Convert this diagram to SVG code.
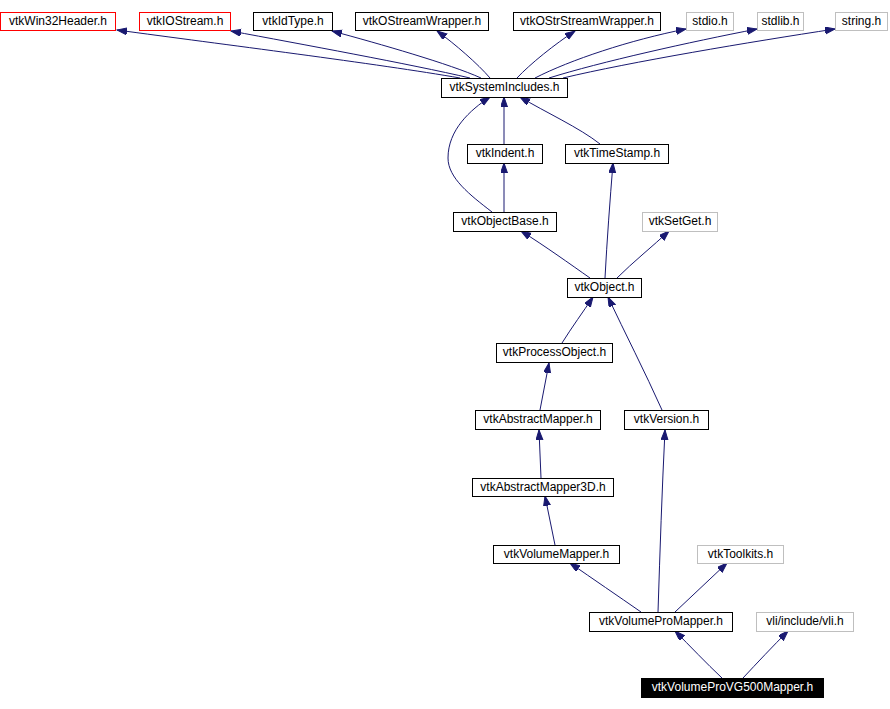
<svg xmlns="http://www.w3.org/2000/svg" width="890" height="709" viewBox="0 0 890 709">
<style>
.n rect{fill:#fff;stroke:#000;stroke-width:1}
.n.red rect{stroke:#ff0000}
.n.grey rect{stroke:#bfbfbf}
.n.cur rect{fill:#000;stroke:#000}
.n text{font-family:"Liberation Sans",Arial,sans-serif;font-size:12px;fill:#000;text-anchor:middle}
.n.cur text{fill:#fff}
.e path{fill:none;stroke:#191970;stroke-width:1;marker-end:url(#ah)}
</style>
<defs>
<marker id="ah" markerUnits="userSpaceOnUse" markerWidth="11" markerHeight="8" refX="10" refY="3.5" orient="auto">
<path d="M0,0 L10,3.5 L0,7 z" fill="#191970" stroke="#191970" stroke-width="1"/>
</marker>
</defs>
<rect width="890" height="709" fill="#fff"/>
<g class="e" id="connectors">
<path d="M460,78 C380,64 220,44 117,30"/>
<path d="M470,78 C410,64 300,44 231,31"/>
<path d="M481,78 C450,64 380,44 332,31"/>
<path d="M490,78 C478,64 455,44 437,31"/>
<path d="M517,78 C530,64 555,44 575,31"/>
<path d="M535,78 C570,60 630,40 686,29"/>
<path d="M549,78 C600,62 690,42 757,29"/>
<path d="M563,78 C630,62 750,42 835,29"/>
<path d="M504,144 L504,97"/>
<path d="M600,144 C580,128 545,112 520,97"/>
<path d="M492,212 C470,195 448,178 448,158 C448,130 470,110 490,97"/>
<path d="M504,212 L504,163"/>
<path d="M590,278 C570,264 545,246 521,231"/>
<path d="M605,278 C607,240 610,200 613,163"/>
<path d="M617,278 C633,262 653,246 669,231"/>
<path d="M562,343 C572,327 583,312 593,297"/>
<path d="M662,410 C645,372 625,333 608,297"/>
<path d="M540,410 L549,363"/>
<path d="M541,478 L539,430"/>
<path d="M555,545 L545,496"/>
<path d="M641,612 C618,596 593,579 570,563"/>
<path d="M658,612 C660,550 662,490 665,430"/>
<path d="M675,612 C692,596 710,579 727,563"/>
<path d="M722,678 C706,663 690,646 675,631"/>
<path d="M743,678 C757,663 773,646 788,631"/>
</g>
<g class="n red" id="vtkWin32Header"><rect x="0.5" y="12.5" width="115" height="18"/><text x="58" y="25">vtkWin32Header.h</text></g>
<g class="n red" id="vtkIOStream"><rect x="139.5" y="12.5" width="91" height="18"/><text x="185" y="25">vtkIOStream.h</text></g>
<g class="n" id="vtkIdType"><rect x="253.5" y="12.5" width="79" height="18"/><text x="293" y="25">vtkIdType.h</text></g>
<g class="n" id="vtkOStreamWrapper"><rect x="355.5" y="12.5" width="133" height="18"/><text x="422" y="25">vtkOStreamWrapper.h</text></g>
<g class="n" id="vtkOStrStreamWrapper"><rect x="513.5" y="12.5" width="147" height="18"/><text x="587" y="25">vtkOStrStreamWrapper.h</text></g>
<g class="n grey" id="stdio"><rect x="686.5" y="12.5" width="47" height="18"/><text x="710" y="25">stdio.h</text></g>
<g class="n grey" id="stdlib"><rect x="757.5" y="12.5" width="46" height="18"/><text x="780.5" y="25">stdlib.h</text></g>
<g class="n grey" id="string"><rect x="835.5" y="12.5" width="52" height="18"/><text x="861.5" y="25">string.h</text></g>
<g class="n" id="vtkSystemIncludes"><rect x="441.5" y="78.5" width="126" height="19"/><text x="504.5" y="91">vtkSystemIncludes.h</text></g>
<g class="n" id="vtkIndent"><rect x="467.5" y="144.5" width="75" height="19"/><text x="505" y="157">vtkIndent.h</text></g>
<g class="n" id="vtkTimeStamp"><rect x="565.5" y="144.5" width="103" height="19"/><text x="617" y="157">vtkTimeStamp.h</text></g>
<g class="n" id="vtkObjectBase"><rect x="453.5" y="212.5" width="103" height="19"/><text x="505" y="225">vtkObjectBase.h</text></g>
<g class="n grey" id="vtkSetGet"><rect x="642.5" y="212.5" width="75" height="19"/><text x="680" y="225">vtkSetGet.h</text></g>
<g class="n" id="vtkObject"><rect x="567.5" y="278.5" width="74" height="19"/><text x="604.5" y="291">vtkObject.h</text></g>
<g class="n" id="vtkProcessObject"><rect x="496.5" y="343.5" width="116" height="19"/><text x="554.5" y="356">vtkProcessObject.h</text></g>
<g class="n" id="vtkAbstractMapper"><rect x="475.5" y="410.5" width="125" height="19"/><text x="538" y="423">vtkAbstractMapper.h</text></g>
<g class="n" id="vtkVersion"><rect x="624.5" y="410.5" width="84" height="19"/><text x="666.5" y="423">vtkVersion.h</text></g>
<g class="n" id="vtkAbstractMapper3D"><rect x="472.5" y="478.5" width="141" height="18"/><text x="543" y="491">vtkAbstractMapper3D.h</text></g>
<g class="n" id="vtkVolumeMapper"><rect x="493.5" y="545.5" width="126" height="18"/><text x="556.5" y="558">vtkVolumeMapper.h</text></g>
<g class="n grey" id="vtkToolkits"><rect x="697.5" y="545.5" width="86" height="18"/><text x="740.5" y="558">vtkToolkits.h</text></g>
<g class="n" id="vtkVolumeProMapper"><rect x="589.5" y="612.5" width="143" height="19"/><text x="661" y="625">vtkVolumeProMapper.h</text></g>
<g class="n grey" id="vli"><rect x="756.5" y="612.5" width="97" height="19"/><text x="805" y="625">vli/include/vli.h</text></g>
<g class="n cur" id="vtkVolumeProVG500Mapper"><rect x="641.5" y="678.5" width="182" height="19"/><text x="732.5" y="691">vtkVolumeProVG500Mapper.h</text></g>
</svg>
